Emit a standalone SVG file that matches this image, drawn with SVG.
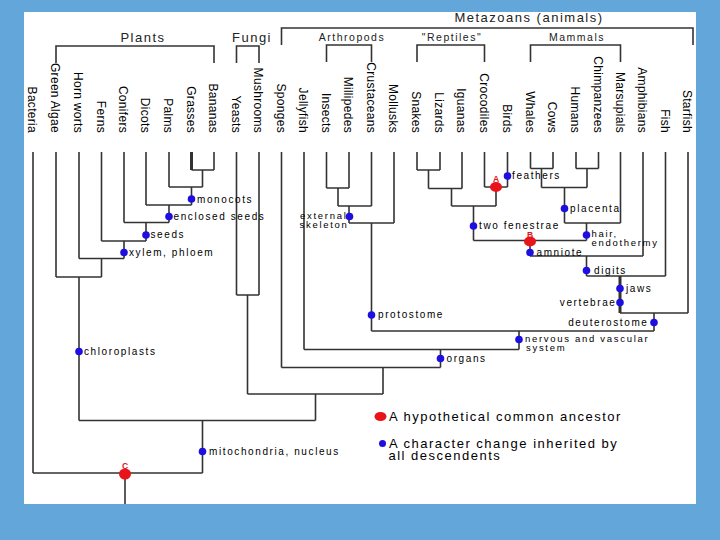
<svg xmlns="http://www.w3.org/2000/svg" width="720" height="540" viewBox="0 0 720 540">
<style>
.tx{font-family:"Liberation Sans",Arial,sans-serif;fill:#000}
.leaf{font-size:12px;letter-spacing:0.3px;text-anchor:end}
.hd{font-size:13px;letter-spacing:1.5px;text-anchor:middle;fill:#222}
.sh{font-size:10.5px;letter-spacing:1.5px;text-anchor:middle;fill:#222}
.ch{font-size:10px;letter-spacing:1.6px}
.c2{font-size:9.5px;letter-spacing:1.7px}
.en{text-anchor:end}
.lg{font-size:13px;letter-spacing:1.5px}
.rl{font-family:"Liberation Sans",Arial,sans-serif;font-size:8.5px;fill:#e0141a;text-anchor:middle;font-weight:bold}
.ln{fill:none;stroke:#333;stroke-width:1.6}
.thk{fill:none;stroke:#333;stroke-width:3}
.bd{fill:#1f0ee0}
.rd{fill:#e8141a}
</style>
<rect x="0" y="0" width="720" height="540" fill="#62a6da"/>
<rect x="24" y="12" width="672" height="492" fill="#ffffff"/>

<g id="headers">
<text class="tx hd" x="143" y="42">Plants</text>
<text class="tx hd" x="252" y="42">Fungi</text>
<text class="tx hd" x="529" y="22">Metazoans (animals)</text>
<text class="tx sh" x="352" y="41">Arthropods</text>
<text class="tx sh" x="452" y="41">"Reptiles"</text>
<text class="tx sh" x="577" y="41">Mammals</text>
<path class="ln" d="M56,63V46H214V63M236.5,63V46H259V63M281.5,45V28H693V45M326.5,62V45H371.5V62M417,62V45H484.5V62M530.5,62V45H620.5V62"/>
</g>

<g id="taxa">
<text class="tx leaf" transform="translate(28,133) rotate(90)">Bacteria</text>
<text class="tx leaf" transform="translate(51,133) rotate(90)">Green Algae</text>
<text class="tx leaf" transform="translate(74,133) rotate(90)">Horn worts</text>
<text class="tx leaf" transform="translate(96.5,133) rotate(90)">Ferns</text>
<text class="tx leaf" transform="translate(119,133) rotate(90)">Conifers</text>
<text class="tx leaf" transform="translate(141,133) rotate(90)">Dicots</text>
<text class="tx leaf" transform="translate(164,133) rotate(90)">Palms</text>
<text class="tx leaf" transform="translate(186.5,133) rotate(90)">Grasses</text>
<text class="tx leaf" transform="translate(209,133) rotate(90)">Bananas</text>
<text class="tx leaf" transform="translate(231.5,133) rotate(90)">Yeasts</text>
<text class="tx leaf" transform="translate(254,133) rotate(90)">Mushrooms</text>
<text class="tx leaf" transform="translate(276.5,133) rotate(90)">Sponges</text>
<text class="tx leaf" transform="translate(299,133) rotate(90)">Jellyfish</text>
<text class="tx leaf" transform="translate(321.5,133) rotate(90)">Insects</text>
<text class="tx leaf" transform="translate(344,133) rotate(90)">Millipedes</text>
<text class="tx leaf" transform="translate(366.5,133) rotate(90)">Crustaceans</text>
<text class="tx leaf" transform="translate(389,133) rotate(90)">Mollusks</text>
<text class="tx leaf" transform="translate(412,133) rotate(90)">Snakes</text>
<text class="tx leaf" transform="translate(435,133) rotate(90)">Lizards</text>
<text class="tx leaf" transform="translate(457,133) rotate(90)">Iguanas</text>
<text class="tx leaf" transform="translate(479.5,133) rotate(90)">Crocodiles</text>
<text class="tx leaf" transform="translate(502.5,133) rotate(90)">Birds</text>
<text class="tx leaf" transform="translate(525.5,133) rotate(90)">Whales</text>
<text class="tx leaf" transform="translate(548,133) rotate(90)">Cows</text>
<text class="tx leaf" transform="translate(571,133) rotate(90)">Humans</text>
<text class="tx leaf" transform="translate(593.5,133) rotate(90)">Chimpanzees</text>
<text class="tx leaf" transform="translate(615.5,133) rotate(90)">Marsupials</text>
<text class="tx leaf" transform="translate(638,133) rotate(90)">Amphibians</text>
<text class="tx leaf" transform="translate(660.5,133) rotate(90)">Fish</text>
<text class="tx leaf" transform="translate(683,133) rotate(90)">Starfish</text>
</g>

<g id="connectors">
<path class="ln" d="M33,152V473M56,152V277M79,152V258.5M101.5,152V241M124,152V222.5M146,152V205M169,152V187M214,152V170M236.5,152V295M259,152V295M281.5,152V367.5M304,152V349.5M326.5,152V188M349,152V188M371.5,152V206M394,152V223M417,152V170M440,152V170M462,152V188.5M484.5,152V187M507.5,152V187M530.5,152V168.5M553,152V168.5M576,152V168.5M598.5,152V168.5M620.5,152V223M643,152V256M665.5,152V276M688,152V313"/>
<path class="thk" d="M191.5,152V170"/>
<path class="ln" d="M191.5,170H214M202.5,170V187M169,187H202.5M191.5,187V205M146,205H191.5M169,205V222.5M124,222.5H169M146,222.5V241M101.5,241H146M124,241V258.5M79,258.5H124M101.5,258.5V277M56,277H101.5M79,277V420.5M79,420.5H315.5M315.5,394V420.5M202.5,420.5V473M33,473H202.5M125,473V504"/>
<path class="ln" d="M236.5,295H259M247.5,295V394M247.5,394H383M383,367.5V394"/>
<path class="ln" d="M281.5,367.5H440.5M440.5,349.5V367.5M304,349.5H519M519,331V349.5M371.5,331H654"/>
<path class="ln" d="M326.5,188H349M338,188V206M338,206H371.5M349,206V223M349,223H394M371.5,223V331"/>
<path class="ln" d="M417,170H440M428.5,170V188.5M428.5,188.5H462M451.5,188.5V206M451.5,206H496M484.5,187H507.5M496,187V206M473.5,206V240.5M473.5,240.5H586.5"/>
<path class="ln" d="M530.5,168.5H553M576,168.5H598.5M541.5,168.5V187.5M587,168.5V187.5M541.5,187.5H587M564.5,187.5V223M564.5,223H620.5M586.5,223V240.5M530,240.5V256M530,256H643M586.5,256V276M586.5,276H665.5M620,313H688M654,313V331"/>
<path class="thk" d="M620,276V313"/>
</g>

<g id="ancestor-A"><ellipse class="rd" cx="496" cy="187" rx="6" ry="5"/><text class="rl" x="496" y="182">A</text></g>
<g id="ancestor-B"><ellipse class="rd" cx="530" cy="241.5" rx="6" ry="5"/><text class="rl" x="530" y="237.5">B</text></g>
<g id="ancestor-C"><ellipse class="rd" cx="125" cy="474" rx="6" ry="5.5"/><text class="rl" x="125" y="469">C</text></g>

<g id="char-monocots"><circle class="bd" cx="191.5" cy="199" r="3.8"/><text class="tx ch" x="197" y="202.5">monocots</text></g>
<g id="char-enclosed-seeds"><circle class="bd" cx="169" cy="216.5" r="3.8"/><text class="tx ch" x="173.5" y="220">enclosed seeds</text></g>
<g id="char-seeds"><circle class="bd" cx="146" cy="235" r="3.8"/><text class="tx ch" x="150.5" y="238">seeds</text></g>
<g id="char-xylem"><circle class="bd" cx="124" cy="252.5" r="3.8"/><text class="tx ch" x="129" y="255.5">xylem, phloem</text></g>
<g id="char-chloroplasts"><circle class="bd" cx="79" cy="351.5" r="3.8"/><text class="tx ch" x="84" y="355">chloroplasts</text></g>
<g id="char-mitochondria"><circle class="bd" cx="202.5" cy="451.5" r="3.8"/><text class="tx ch" x="209" y="455">mitochondria, nucleus</text></g>
<g id="char-external-skeleton"><circle class="bd" cx="349.5" cy="216.5" r="3.8"/><text class="tx c2 en" x="347.5" y="218.5">external</text><text class="tx c2 en" x="348.5" y="227.5">skeleton</text></g>
<g id="char-protostome"><circle class="bd" cx="371.5" cy="315" r="3.8"/><text class="tx ch" x="378" y="318">protostome</text></g>
<g id="char-organs"><circle class="bd" cx="440.5" cy="358.5" r="3.8"/><text class="tx ch" x="446.5" y="361.5">organs</text></g>
<g id="char-nervous"><circle class="bd" cx="519" cy="339.5" r="3.8"/><text class="tx c2" x="525" y="342">nervous and vascular</text><text class="tx c2" x="526" y="351">system</text></g>
<g id="char-deuterostome"><circle class="bd" cx="654" cy="322.5" r="3.8"/><text class="tx ch en" x="648.5" y="325.5">deuterostome</text></g>
<g id="char-vertebrae"><circle class="bd" cx="620" cy="302.5" r="3.8"/><text class="tx ch en" x="616.5" y="305.5">vertebrae</text></g>
<g id="char-jaws"><circle class="bd" cx="620" cy="288.5" r="3.8"/><text class="tx ch" x="626" y="291.5">jaws</text></g>
<g id="char-digits"><circle class="bd" cx="586.5" cy="270.5" r="3.8"/><text class="tx ch" x="594" y="274">digits</text></g>
<g id="char-amniote"><circle class="bd" cx="530" cy="252.5" r="3.8"/><text class="tx ch" x="536.5" y="255.5">amniote</text></g>
<g id="char-hair"><circle class="bd" cx="586.5" cy="235" r="3.8"/><text class="tx c2" x="591.5" y="236.5">hair,</text><text class="tx c2" x="591.5" y="245.5">endothermy</text></g>
<g id="char-placenta"><circle class="bd" cx="564.5" cy="208.5" r="3.8"/><text class="tx ch" x="570" y="211.5">placenta</text></g>
<g id="char-two-fenestrae"><circle class="bd" cx="473.5" cy="226" r="3.8"/><text class="tx ch" x="479" y="228.5">two fenestrae</text></g>
<g id="char-feathers"><circle class="bd" cx="507.5" cy="176" r="3.8"/><text class="tx ch" x="512" y="179">feathers</text></g>

<g id="legend">
<ellipse class="rd" cx="380.5" cy="416.5" rx="6" ry="4.5"/>
<text class="tx lg" x="389" y="421">A hypothetical common ancestor</text>
<circle class="bd" cx="382.5" cy="443.5" r="3.5"/>
<text class="tx lg" x="389" y="447.5">A character change inherited by</text>
<text class="tx lg" x="388.5" y="460">all descendents</text>
</g>
</svg>
